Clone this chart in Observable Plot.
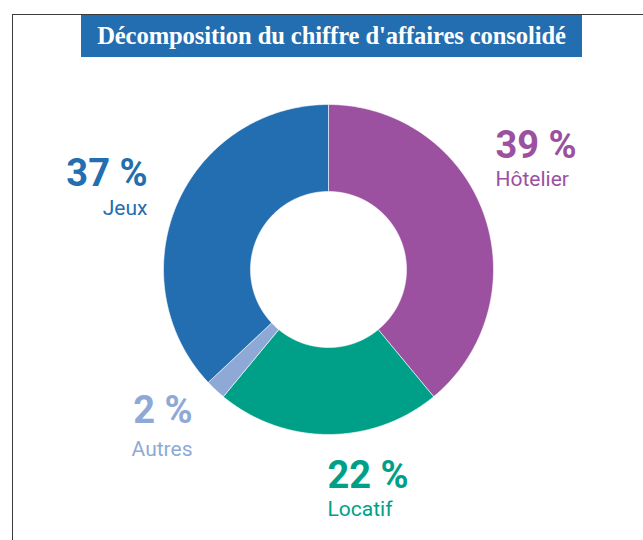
<!DOCTYPE html>
<html>
<head>
<meta charset="utf-8">
<script src="https://cdn.jsdelivr.net/npm/d3@7"></script>
<script src="https://cdn.jsdelivr.net/npm/@observablehq/plot@0.6"></script>
<style>
  html, body { margin: 0; padding: 0; background: #fff; }
  #wrap { position: relative; width: 643px; height: 540px; overflow: hidden; }
  #frame { position: absolute; left: 12px; top: 14px; width: 700px; height: 600px;
           border-left: 1.5px solid #3a3a3a; border-top: 1.5px solid #3a3a3a; }
  #title { position: absolute; left: 81px; top: 15px; width: 501px; height: 42px;
           background: #236eb0; color: #fff; text-align: center;
           font-family: "Liberation Serif", "DejaVu Serif", serif; font-weight: bold;
           font-size: 24.6px; line-height: 41px; letter-spacing: -0.1px; }
  #chart { position: absolute; left: 0; top: 57px; }
</style>
</head>
<body>
<div id="wrap">
  <div id="frame"></div>
  <div id="title">Décomposition du chiffre d'affaires consolidé</div>
  <div id="chart"></div>
</div>
<script>
// ---- data ----
const categories = ["Hôtelier", "Locatif", "Autres", "Jeux"];
const values = [39, 22, 2, 37];
const pctLabels = ["39 %", "22 %", "2 %", "37 %"];
const colors = ["#9b51a0", "#00a088", "#8fa9d6", "#236eb0"];

// ---- layout ----
const W = 643, TOP = 57, H = 540 - TOP;
const cx = 328, cy = 269 - TOP, R = 165, inner = 78 / R;
// label anchor points (page pixels): [x, pct baseline, name baseline, anchor]
const labelPos = {
  "Hôtelier": [495, 157, 185, "start"],
  "Locatif":  [327, 487, 515, "start"],
  "Autres":   [192, 422, 455, "end"],
  "Jeux":     [147, 185, 214, "end"]
};

// ---- slices via d3.pie (clockwise from 12 o'clock) ----
const pie = d3.pie().sort(null).value(d => d.value)(
  categories.map((c, i) => ({category: c, value: values[i]}))
);
const slicePts = [];
for (const s of pie) {
  const a0 = s.startAngle, a1 = s.endAngle;
  const n = Math.max(4, Math.ceil((a1 - a0) / 0.01));
  const pts = [];
  for (let k = 0; k <= n; k++) { const a = a0 + (a1 - a0) * k / n; pts.push([Math.sin(a), Math.cos(a)]); }
  for (let k = n; k >= 0; k--) { const a = a0 + (a1 - a0) * k / n; pts.push([inner * Math.sin(a), inner * Math.cos(a)]); }
  pts.push(pts[0]);
  for (const [x, y] of pts) slicePts.push({category: s.data.category, x, y});
}

const toU = (px, py) => [(px - cx) / R, (cy - (py - TOP)) / R];
const labels = categories.map((c, i) => {
  const [px, pb, nb, anchor] = labelPos[c];
  const [ux, uyp] = toU(px, pb);
  const [, uyn] = toU(px, nb);
  return {category: c, pct: pctLabels[i], x: ux, yp: uyp, yn: uyn, anchor};
});

const font = 'Roboto, "Liberation Sans", sans-serif';

const textMarks = [];
for (const anchor of ["start", "end"]) {
  const d = labels.filter(l => l.anchor === anchor);
  textMarks.push(Plot.text(d, {x: "x", y: "yp", text: "pct", fill: "category", textAnchor: anchor,
    lineAnchor: "bottom", fontSize: 38, fontWeight: "bold", fontFamily: font, letterSpacing: -0.8}));
  textMarks.push(Plot.text(d, {x: "x", y: "yn", text: "category", fill: "category", textAnchor: anchor,
    lineAnchor: "bottom", fontSize: 21, fontFamily: font, letterSpacing: -0.7}));
}

const chart = Plot.plot({
  width: W, height: H,
  margin: 0, marginTop: 0, marginRight: 0, marginBottom: 0, marginLeft: 0,
  x: {type: "linear", domain: [-cx / R, (W - cx) / R], range: [0, W], axis: null},
  y: {type: "linear", domain: [-(H - cy) / R, cy / R], range: [H, 0], axis: null},
  color: {domain: categories, range: colors},
  style: {background: "transparent", overflow: "visible"},
  marks: [
    Plot.line(slicePts, {x: "x", y: "y", z: "category", fill: "category", stroke: "white", strokeWidth: 0.6, curve: "linear"}),
    ...textMarks
  ]
});
document.getElementById("chart").appendChild(chart);
</script>
</body>
</html>
